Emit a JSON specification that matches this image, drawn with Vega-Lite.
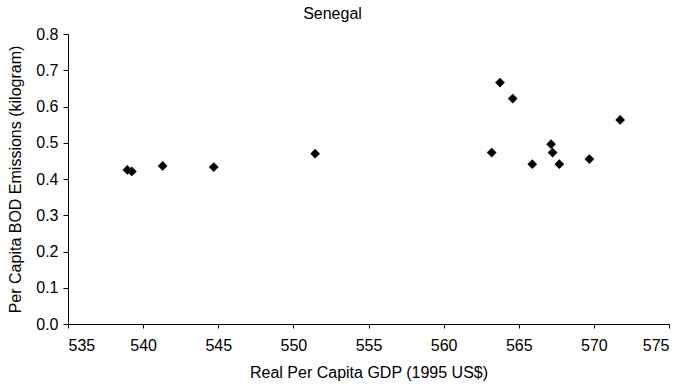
{
  "$schema": "https://vega.github.io/schema/vega-lite/v6.json",
  "width": 601,
  "height": 290,
  "autosize": {"type": "none"},
  "padding": {"left": 68, "top": 34, "right": 17, "bottom": 60},
  "background": "white",
  "title": {
    "text": "Senegal",
    "font": "Liberation Sans",
    "fontSize": 16,
    "fontWeight": "normal",
    "color": "black",
    "anchor": "middle",
    "dx": -36,
    "offset": 4
  },
  "data": {
    "values": [
      {"gdp": 538.95, "bod": 0.425},
      {"gdp": 539.25, "bod": 0.421},
      {"gdp": 541.3, "bod": 0.436},
      {"gdp": 544.7, "bod": 0.433},
      {"gdp": 551.45, "bod": 0.470},
      {"gdp": 563.2, "bod": 0.473},
      {"gdp": 563.75, "bod": 0.666},
      {"gdp": 564.6, "bod": 0.622},
      {"gdp": 565.9, "bod": 0.441},
      {"gdp": 567.15, "bod": 0.496},
      {"gdp": 567.25, "bod": 0.473},
      {"gdp": 567.7, "bod": 0.441},
      {"gdp": 569.7, "bod": 0.455},
      {"gdp": 571.75, "bod": 0.563}
    ]
  },
  "mark": {"type": "point", "shape": "diamond", "filled": true, "color": "black", "opacity": 1, "size": 95},
  "encoding": {
    "x": {
      "field": "gdp",
      "type": "quantitative",
      "title": "Real Per Capita GDP (1995 US$)",
      "scale": {"domain": [535, 575], "nice": false, "zero": false},
      "axis": {"values": [535, 540, 545, 550, 555, 560, 565, 570, 575], "format": "d", "labelPadding": 9, "titlePadding": 11}
    },
    "y": {
      "field": "bod",
      "type": "quantitative",
      "title": "Per Capita BOD Emissions (kilogram)",
      "scale": {"domain": [0, 0.8], "nice": false},
      "axis": {"values": [0, 0.1, 0.2, 0.3, 0.4, 0.5, 0.6, 0.7, 0.8], "format": ".1f", "tickSize": 5, "labelPadding": 5, "titlePadding": 12}
    }
  },
  "config": {
    "view": {"stroke": null},
    "axis": {
      "grid": false,
      "domainColor": "black",
      "domainWidth": 1,
      "tickColor": "black",
      "tickWidth": 1,
      "tickSize": 4,
      "labelFont": "Liberation Sans",
      "labelFontSize": 16,
      "labelColor": "black",
      "labelPadding": 8,
      "titleFont": "Liberation Sans",
      "titleFontSize": 16,
      "titleFontWeight": "normal",
      "titleColor": "black",
      "titlePadding": 9
    }
  }
}
